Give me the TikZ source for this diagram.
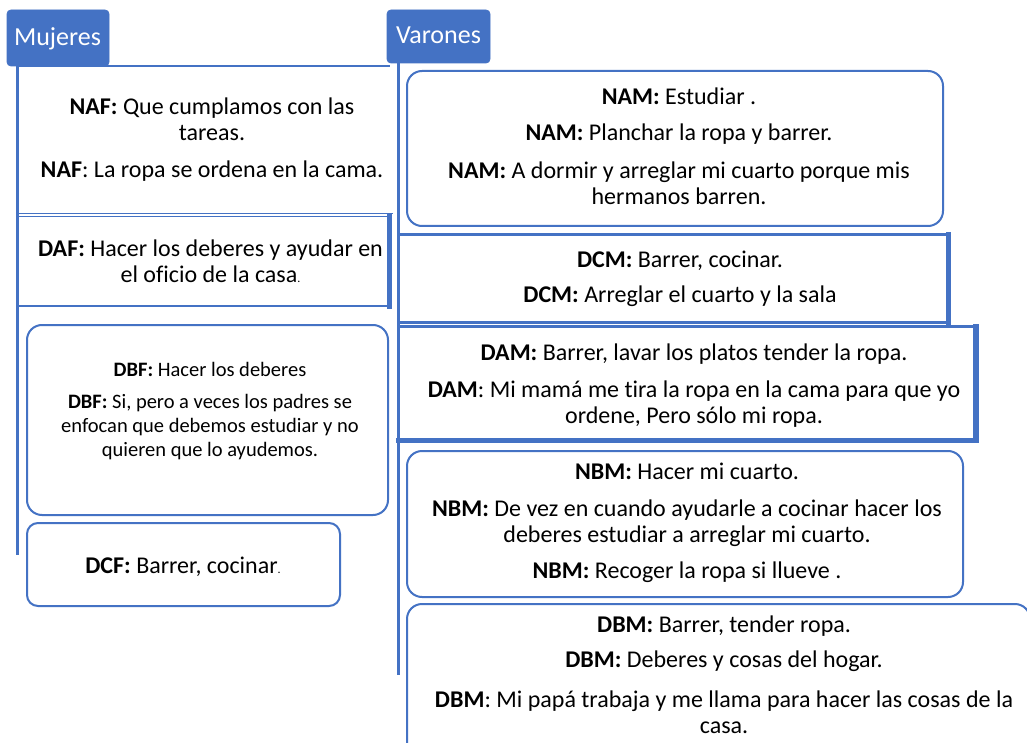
\documentclass[tikz,border=0pt]{standalone}
\usepackage{fontspec}
\setmainfont{Carlito}[Ligatures=NoCommon]
\definecolor{blu}{RGB}{68,114,196}
\newcommand{\smalldot}{{\fontsize{12}{12}\selectfont.}}
\tikzset{
  tabbox/.style={fill=blu, draw=blu, line width=0.8pt, rounded corners=4pt, inner sep=0pt, outer sep=0pt, anchor=north west},
  tabtxt/.style={text=white, font=\fontsize{26}{30}\selectfont, anchor=base, inner sep=0pt},
  rbox/.style={draw=blu, line width=2pt, rounded corners=15pt, inner sep=0pt, outer sep=0pt, anchor=north west, fill=white},
  sbox/.style={draw=blu, inner sep=0pt, outer sep=0pt, anchor=north west},
  txt/.style={align=center, anchor=base, inner sep=0pt, font=\fontsize{24}{26}\selectfont},
  stxt/.style={align=center, anchor=base, inner sep=0pt, font=\fontsize{20.5}{24}\selectfont},
  spine/.style={draw=blu, line width=3pt},
  rule/.style={draw=blu, line width=1pt},
  heavy/.style={draw=blu, line cap=rect},
}
\begin{document}
\begin{tikzpicture}[x=1pt,y=-1pt]
\useasboundingbox (0,0) rectangle (1027,743);
\clip (0,0) rectangle (1027,743);
\fill[white] (0,0) rectangle (1027,743);

% ---------- Mujeres column ----------
\coordinate (mtop) at (17.3,64);
\coordinate (mbot) at (17.3,555);
\draw[spine] (mtop) -- (mbot);
\coordinate (hl1) at (17,66);
\coordinate (hr1) at (390,66);
\draw[draw=blu, line width=2.5pt] (hl1) -- (hr1);
\coordinate (tl1) at (17,213.3);
\coordinate (tr1) at (393,213.3);
\draw[rule] (tl1) -- (tr1);

\node[tabbox, minimum width=102pt, minimum height=56pt] (mujtab) at (7,10) {};
\node[tabtxt] (mujtxt) at (57.5,46) {Mujeres};

% base anchor = baseline of the last line
\node[txt] (naf) at (212,178) {\textbf{NAF:} Que cumplamos con las\\ tareas.\\[11pt] \textbf{NAF}: La ropa se ordena en la cama.};

\node[sbox, line width=1.5pt, minimum width=372.7pt, minimum height=89.7pt] (dafbox) at (17,216.3) {};
\draw[heavy, line width=5pt] (dafbox.north east) -- (dafbox.south east);
\draw[heavy, line width=2.5pt] (dafbox.south west) -- (dafbox.south east);
\node[txt] (daf) at (210.5,282) {\textbf{DAF:} Hacer los deberes y ayudar en\\ el oficio de la casa\smalldot};

\node[rbox, minimum width=361pt, minimum height=190pt] (dbfbox) at (27,325) {};
\node[stxt] (dbf) at (210,456) {\textbf{DBF:} Hacer los deberes\\[8pt] \textbf{DBF:} Si, pero a veces los padres se\\ enfocan que debemos estudiar y no\\ quieren que lo ayudemos.};

\node[rbox, rounded corners=11pt, minimum width=313pt, minimum height=83pt] (dcfbox) at (27,523) {};
\node[txt] (dcf) at (183,573) {\textbf{DCF:} Barrer, cocinar\smalldot};

% ---------- Varones column ----------
\coordinate (vtop) at (398.5,60);
\coordinate (vbot) at (398.5,675);
\draw[spine] (vtop) -- (vbot);

\node[tabbox, minimum width=103pt, minimum height=53pt] (vartab) at (387,10) {};
\node[tabtxt] (vartxt) at (438.5,44) {Varones};

\node[rbox, minimum width=536pt, minimum height=155pt] (nambox) at (407,71) {};
\node[txt] (nam) at (679,205) {\textbf{NAM:} Estudiar .\\[10pt] \textbf{NAM:} Planchar la ropa y barrer.\\[12pt] \textbf{NAM:} A dormir y arreglar mi cuarto porque mis\\ hermanos barren.};

\node[sbox, line width=3pt, minimum width=549.5pt, minimum height=87.7pt] (dcmbox) at (398.5,234.3) {};
\draw[heavy, line width=5pt] (dcmbox.north east) -- (dcmbox.south east);
\node[txt] (dcm) at (680,302.7) {\textbf{DCM:} Barrer, cocinar.\\[9pt] \textbf{DCM:} Arreglar el cuarto y la sala};

\node[sbox, line width=3.5pt, minimum width=577pt, minimum height=113.5pt] (dambox) at (398.5,326.5) {};
\draw[heavy, line width=6pt] (dambox.north east) -- (dambox.south east);
\draw[heavy, line width=5pt] (dambox.south west) -- (dambox.south east);
\node[txt] (dam) at (694,423) {\textbf{DAM:} Barrer, lavar los platos tender la ropa.\\[10.7pt] \textbf{DAM}: Mi mamá me tira la ropa en la cama para que yo\\ ordene, Pero sólo mi ropa.};

\node[rbox, minimum width=556pt, minimum height=146pt] (nbmbox) at (407,451) {};
\node[txt] (nbm) at (687,578) {\textbf{NBM:} Hacer mi cuarto.\\[11pt] \textbf{NBM:} De vez en cuando ayudarle a cocinar hacer los\\ deberes estudiar a arreglar mi cuarto.\\[10pt] \textbf{NBM:} Recoger la ropa si llueve .};

\node[rbox, minimum width=623pt, minimum height=160pt] (dbmbox) at (407,604) {};
\node[txt] (dbm) at (724,733) {\textbf{DBM:} Barrer, tender ropa.\\[9pt] \textbf{DBM:} Deberes y cosas del hogar.\\[14pt] \textbf{DBM}: Mi papá trabaja y me llama para hacer las cosas de la\\ casa.};
\end{tikzpicture}
\end{document}
